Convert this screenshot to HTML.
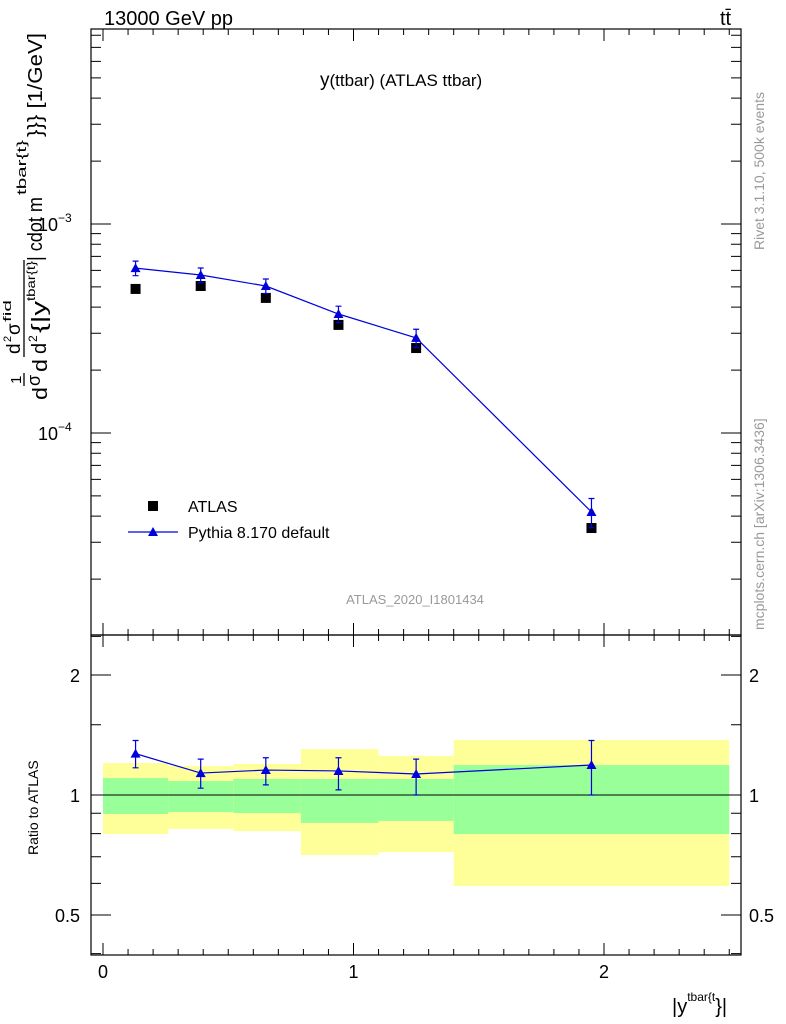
<!DOCTYPE html>
<html><head><meta charset="utf-8"><style>
body{margin:0;background:#fff;}
svg{display:block;font-family:"Liberation Sans",sans-serif;}
</style></head><body>
<svg id="c" width="786" height="1024" viewBox="0 0 786 1024">
<g id="bands"></g>
<g id="marks"></g>
<g id="axes"></g>
<text x="104" y="25" font-size="20">13000 GeV pp</text>
<text x="720" y="25" font-size="20">tt̄</text>
<text x="320" y="86" font-size="17"><tspan font-size="19">y</tspan>(ttbar) (ATLAS ttbar)</text>
<text x="415" y="604" font-size="13" fill="#999" text-anchor="middle">ATLAS_2020_I1801434</text>
<text transform="translate(764,250) rotate(-90)" font-size="14" fill="#999">Rivet 3.1.10,  500k events</text>
<text transform="translate(764,630) rotate(-90)" font-size="14" fill="#999">mcplots.cern.ch [arXiv:1306.3436]</text>
<g transform="translate(0,400) rotate(-90)">
<text x="0" y="47" font-size="20" textLength="13" lengthAdjust="spacingAndGlyphs">d</text>
<text x="16" y="21" font-size="15">1</text>
<line x1="14" y1="24" x2="27" y2="24" stroke="#000" stroke-width="1.3"/>
<text x="14" y="40" font-size="18">σ</text>
<text x="28" y="47" font-size="20" textLength="13" lengthAdjust="spacingAndGlyphs">d</text>
<text x="46" y="20" font-size="19">d</text>
<text x="58" y="11" font-size="11">2</text>
<text x="65" y="20" font-size="19">σ</text>
<text x="78" y="11" font-size="11" textLength="22" lengthAdjust="spacingAndGlyphs">fid</text>
<line x1="43" y1="24" x2="140" y2="24" stroke="#000" stroke-width="1.3"/>
<text x="46" y="46" font-size="20">d</text>
<text x="58" y="37" font-size="12">2</text>
<text x="67" y="46" font-size="20" textLength="32" lengthAdjust="spacingAndGlyphs">{|y</text>
<text x="99" y="35" font-size="12" textLength="40" lengthAdjust="spacingAndGlyphs">tbar{t}</text>
<text x="139" y="42" font-size="20" textLength="64" lengthAdjust="spacingAndGlyphs">| cdot m</text>
<text x="205" y="26" font-size="13" textLength="55" lengthAdjust="spacingAndGlyphs">tbar{t}</text>
<text x="263" y="42" font-size="20" textLength="104" lengthAdjust="spacingAndGlyphs">}}} [1/GeV]</text>
</g>
<text transform="translate(38,855) rotate(-90)" font-size="14">Ratio to ATLAS</text>
<text x="672" y="1013" font-size="20">|y<tspan font-size="12" dy="-12">tbar{t</tspan><tspan dy="12">}|</tspan></text>
<rect x="148" y="501" width="10" height="10" fill="#000"/>
<text x="188" y="512" font-size="16">ATLAS</text>
<line x1="128" y1="532" x2="178" y2="532" stroke="#0000dd" stroke-width="1.2"/>
<polygon points="153,527 158,536 148,536" fill="#0000dd"/>
<text x="188" y="538" font-size="16">Pythia 8.170 default</text>
</svg>
<script>
const binEdges=[0,0.26,0.52,0.79,1.1,1.4,2.5];
const xCenters=[0.13,0.39,0.65,0.94,1.25,1.95];
const atlasVals=[4.89e-4,5.05e-4,4.43e-4,3.29e-4,2.55e-4,3.51e-5];
const pythiaVals=[6.15e-4,5.70e-4,5.05e-4,3.71e-4,2.85e-4,4.19e-5];
const pythiaErr=[0.08,0.08,0.08,0.09,0.1,0.16];
const ratioVals=[1.27,1.135,1.155,1.149,1.129,1.189];
const ratioLo=[1.17,1.04,1.06,1.03,1.0,1.0];
const ratioHi=[1.37,1.23,1.24,1.24,1.23,1.37];
const greenHi=[1.103,1.084,1.097,1.097,1.097,1.189];
const greenLo=[0.896,0.906,0.901,0.851,0.861,0.798];
const yellowHi=[1.203,1.182,1.196,1.304,1.253,1.374];
const yellowLo=[0.798,0.822,0.812,0.707,0.719,0.591];
const xTicks=[0,1,2];
const yTicksMain=[1e-4,1e-3];
const ratioTicks=[0.5,1,2];

const NS="http://www.w3.org/2000/svg";
const L=91,R=741,T=29,M=635,B=955;
const X=v=>103+v*250.5;
const Y=v=>224-(Math.log10(v)+3)*209;
const RY=v=>795-Math.log2(v)*120;
function mk(tag,attrs,parent){const e=document.createElementNS(NS,tag);for(const k in attrs)e.setAttribute(k,attrs[k]);document.getElementById(parent).appendChild(e);return e;}

for(let i=0;i<xCenters.length;i++){
  const x0=X(binEdges[i]),x1=X(binEdges[i+1]);
  let e=mk('rect',{x:x0,y:RY(yellowHi[i]),width:x1-x0,height:RY(yellowLo[i])-RY(yellowHi[i]),fill:'#ffff99'},'bands');
  
  
  e=mk('rect',{x:x0,y:RY(greenHi[i]),width:x1-x0,height:RY(greenLo[i])-RY(greenHi[i]),fill:'#99ff99'},'bands');
  
  
}
let ref=mk('line',{x1:X(0),x2:X(2.5),y1:RY(1),y2:RY(1),stroke:'#000','stroke-width':1},'marks');



let pts=xCenters.map((x,i)=>X(x)+','+Y(pythiaVals[i])).join(' ');
let pl=mk('polyline',{points:pts,fill:'none',stroke:'#0000dd','stroke-width':1.2},'marks');


let rpts=xCenters.map((x,i)=>X(x)+','+RY(ratioVals[i])).join(' ');
let rl=mk('polyline',{points:rpts,fill:'none',stroke:'#0000dd','stroke-width':1.2},'marks');



function tri(cx,cy,name){const p=mk('polygon',{points:`${cx},${cy-5} ${cx+5},${cy+4} ${cx-5},${cy+4}`,fill:'#0000dd'},'marks');

}
function err(cx,y1,y2,name){const g=mk('path',{d:`M${cx},${y1}V${y2}M${cx-3},${y1}H${cx+3}M${cx-3},${y2}H${cx+3}`,stroke:'#0000dd','stroke-width':1.2,fill:'none'},'marks');

}
for(let i=0;i<xCenters.length;i++){
  const cx=X(xCenters[i]);
  const r=mk('rect',{x:cx-5,y:Y(atlasVals[i])-5,width:10,height:10,fill:'#000'},'marks');
  
  
  err(cx,Y(pythiaVals[i]*(1+pythiaErr[i])),Y(pythiaVals[i]*(1-pythiaErr[i])),'pythia-error');
  tri(cx,Y(pythiaVals[i]),'pythia-point');
  err(cx,RY(ratioHi[i]),RY(ratioLo[i]),'ratio-error');
  tri(cx,RY(ratioVals[i]),'ratio-point');
}

for(const [y0,y1,n] of [[T,M,'main-frame'],[M,B,'ratio-frame']]){
  const f=mk('rect',{x:L,y:y0,width:R-L,height:y1-y0,fill:'none',stroke:'#000','stroke-width':1.2},'axes');
  
  
}
let d='';
for(let e=-5;e<=-2;e++)for(let m=1;m<10;m++){const v=m*Math.pow(10,e);const y=Y(v);if(y<T||y>M)continue;const len=m==1?20:10;d+=`M${L},${y}h${len}M${R},${y}h${-len}`;}
for(let k=0;k<=25;k++){const v=k/10;const x=X(v);const len=k%10==0?12:6;d+=`M${x},${M}v${-len}M${x},${T}v${len}M${x},${B}v${-len}M${x},${M}v${len}`;}
for(const v of [0.4,0.5,0.6,0.7,0.8,0.9,1,1.5,2,2.5]){const y=RY(v);if(y<M||y>B)continue;const len=ratioTicks.includes(v)?20:10;d+=`M${L},${y}h${len}M${R},${y}h${-len}`;}
const tk=mk('path',{d:d,stroke:'#000','stroke-width':1,fill:'none'},'axes');



for(const v of xTicks){const t=mk('text',{x:X(v),y:978,'font-size':18,'text-anchor':'middle'},'axes');t.textContent=v;

}
for(const v of yTicksMain){const e=Math.round(Math.log10(v));const t=mk('text',{x:38,y:Y(v)+7,'font-size':18},'axes');t.innerHTML='10<tspan font-size="12" dy="-9">−'+(-e)+'</tspan>';

}
for(const v of ratioTicks){
  const t=mk('text',{x:80,y:RY(v)+7,'font-size':18,'text-anchor':'end'},'axes');t.textContent=v;
  
  
  const t2=mk('text',{x:749,y:RY(v)+7,'font-size':18},'axes');t2.textContent=v;
  
  
}
</script>
</body></html>
